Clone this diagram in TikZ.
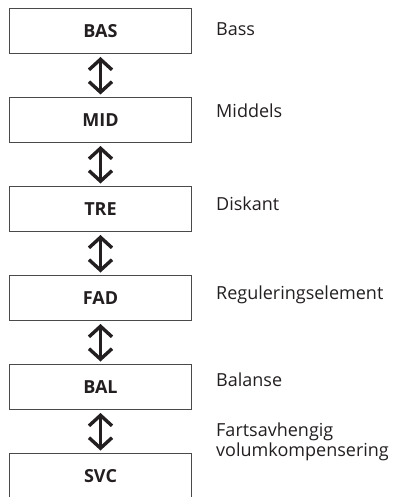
\documentclass[tikz,border=0pt]{standalone}
\usepackage{fontspec}
\setmainfont{Open Sans}
\usetikzlibrary{arrows.meta}
\definecolor{ink}{HTML}{231F20}
\definecolor{frame}{HTML}{4A4A4A}
\tikzset{
  modebox/.style={draw=frame, line width=1pt, minimum width=182pt, minimum height=45pt,
    inner sep=0pt, anchor=north west, font=\fontsize{18}{20}\selectfont\bfseries, text=ink},
  desc/.style={anchor=base west, inner sep=0pt, font=\fontsize{18}{20}\selectfont, text=ink, align=left},
  updown/.style={draw=ink, line width=3.4pt, line join=miter,
    {Straight Barb[length=10.5pt,width=23pt]}-{Straight Barb[length=10.5pt,width=23pt]},
    shorten <=3pt, shorten >=2.5pt}
}
\begin{document}
\begin{tikzpicture}[x=1pt,y=-1pt]
\useasboundingbox (0,0) rectangle (394,497);
\clip (0,0) rectangle (394,497);
\node[modebox] (bas) at (9,8) {BAS};
\node[modebox] (mid) at (9,97) {MID};
\node[modebox] (tre) at (9,186) {TRE};
\node[modebox] (fad) at (9,275) {FAD};
\node[modebox] (bal) at (9,364) {BAL};
\node[modebox] (svc) at (9,453) {SVC};
\draw[updown] (bas.south) -- (mid.north);
\draw[updown] (mid.south) -- (tre.north);
\draw[updown] (tre.south) -- (fad.north);
\draw[updown] (fad.south) -- (bal.north);
\draw[updown] (bal.south) -- (svc.north);
\node[desc] (lbas) at (216,36) {Bass};
\node[desc] (lmid) at (216,118) {Middels};
\node[desc] (ltre) at (216,210) {Diskant};
\node[desc] (lfad) at (216,299) {Reguleringselement};
\node[desc] (lbal) at (216,386) {Balanse};
\node[desc] (lsvc) at (216,456) {Fartsavhengig\\volumkompensering};
\end{tikzpicture}
\end{document}
